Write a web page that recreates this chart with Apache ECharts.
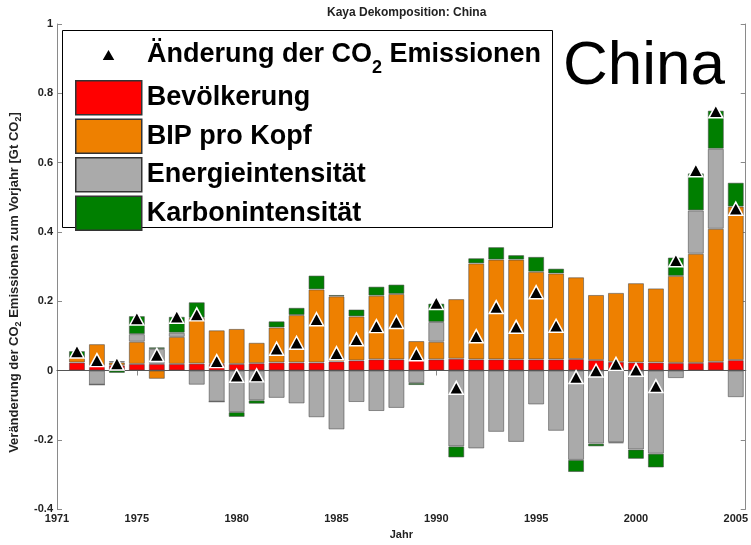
<!DOCTYPE html>
<html><head><meta charset="utf-8">
<script src="https://cdn.jsdelivr.net/npm/echarts@6/dist/echarts.min.js"></script>
<style>html,body{margin:0;padding:0;background:#fff}#c{width:751px;height:545px}</style>
</head><body><div id="c"></div>
<script>
const years = [1972,1973,1974,1975,1976,1977,1978,1979,1980,1981,1982,1983,1984,1985,1986,1987,1988,1989,1990,1991,1992,1993,1994,1995,1996,1997,1998,1999,2000,2001,2002,2003,2004,2005];
const bevoelkerung = [0.023,0.015,0.015,0.019,0.019,0.019,0.020,0.019,0.019,0.021,0.023,0.023,0.023,0.026,0.029,0.032,0.032,0.030,0.032,0.034,0.032,0.032,0.032,0.032,0.032,0.033,0.030,0.025,0.023,0.023,0.022,0.022,0.025,0.030];
const bipProKopf = [0.015,0.061,0.008,0.064,-0.024,0.078,0.132,0.097,0.101,0.059,0.101,0.137,0.211,0.188,0.127,0.184,0.189,0.055,0.051,0.172,0.277,0.288,0.288,0.253,0.248,0.236,0.188,0.199,0.229,0.214,0.251,0.315,0.384,0.443];
const energieintensitaet = [0,-0.041,0.004,0.022,0.043,0.012,-0.041,-0.090,-0.120,-0.086,-0.079,-0.095,-0.135,-0.170,-0.091,-0.117,-0.108,-0.036,0.057,-0.219,-0.225,-0.177,-0.206,-0.098,-0.174,-0.258,-0.211,-0.207,-0.228,-0.240,-0.022,0.125,0.231,-0.077];
const karbonintensitaet = [0.018,0,-0.007,0.052,0.005,0.046,0.045,0,-0.014,-0.010,0.018,0.021,0.040,0.004,0.020,0.026,0.027,-0.006,0.053,-0.032,0.015,0.036,0.013,0.043,0.014,-0.035,-0.008,-0.003,-0.027,-0.040,0.053,0.107,0.110,0.069];
const co2Aenderung = [0.055,0.030,0.020,0.150,0.045,0.155,0.162,0.027,-0.015,-0.014,0.063,0.080,0.148,0.050,0.090,0.128,0.140,0.047,0.195,-0.050,0.099,0.183,0.126,0.226,0.129,-0.019,0.000,0.019,0.002,-0.045,0.318,0.578,0.748,0.467];
const xTickLabels = [1971,1975,1980,1985,1990,1995,2000,2005];
const seriesNames = ['Bevölkerung','BIP pro Kopf','Energieintensität','Karbonintensität'];
const co2Name = 'Änderung der CO2 Emissionen';

const FONT = '"Liberation Sans", Arial, Helvetica, sans-serif';
const chart = echarts.init(document.getElementById('c'), null, {renderer:'canvas'});
// value first, year second: lets the stack run over the value (y) dimension
const toStackPairs = arr => years.map((y,i)=>[arr[i], y]);
const barStyle = c => ({color:c, borderColor:'rgba(70,70,70,0.55)', borderWidth:1});
const axisGrey = '#8a8a8a';
const labelCol = '#222';

const barSeries = [bevoelkerung, bipProKopf, energieintensitaet, karbonintensitaet].map((arr, i) => ({
  name: seriesNames[i],
  type: 'bar',
  stack: 'kaya',
  barWidth: 16,
  encode: {x: 1, y: 0},
  data: toStackPairs(arr),
  itemStyle: barStyle(['#ff0000','#ee8000','#aaaaaa','#007f00'][i]),
  z: 2
}));
barSeries[3].markLine = {
  silent: true, symbol: ['none','none'], label:{show:false},
  lineStyle:{color:'#555', width:1, type:'solid'},
  data:[{yAxis:0}]
};

const option = {
  animation: false,
  textStyle: {fontFamily: FONT},
  title: {text:'Kaya Dekomposition: China', left:327, top:7, padding:0,
    textStyle:{fontSize:12, fontWeight:'bold', color:labelCol, fontFamily:FONT}},
  grid: {left:57, right:4, top:24, bottom:31},
  xAxis: [{
    type:'value', min:1971, max:2005.5, position:'bottom',
    name:'Jahr', nameLocation:'middle', nameGap:19,
    nameTextStyle:{fontSize:11, fontWeight:'bold', color:labelCol, fontFamily:FONT},
    axisLine:{lineStyle:{color:axisGrey}},
    axisTick:{inside:true, length:5, customValues:xTickLabels, lineStyle:{color:axisGrey}},
    axisLabel:{customValues:xTickLabels, formatter: v => String(v),
      fontSize:11, fontWeight:'bold', color:labelCol, margin:4, fontFamily:FONT},
    splitLine:{show:false}
  },{
    type:'value', min:1971, max:2005.5, position:'top',
    axisLine:{lineStyle:{color:axisGrey}},
    axisTick:{inside:true, length:5, customValues:xTickLabels, lineStyle:{color:axisGrey}},
    axisLabel:{show:false}, splitLine:{show:false}
  }],
  yAxis: [{
    type:'value', min:-0.4, max:1, interval:0.2,
    name:'{a|Veränderung der CO}{s|2}{a| Emissionen zum Vorjahr [Gt CO}{s|2}{a|]}',
    nameLocation:'middle', nameGap:31, nameRotate:90,
    nameTextStyle:{padding:[0,32,0,0], rich:{
      a:{fontSize:13, fontWeight:'bold', color:labelCol, fontFamily:FONT},
      s:{fontSize:9, fontWeight:'bold', color:labelCol, fontFamily:FONT, padding:[8,0,0,0]}
    }},
    axisLine:{show:true, lineStyle:{color:axisGrey}},
    axisTick:{show:true, inside:true, length:5, lineStyle:{color:axisGrey}},
    axisLabel:{fontSize:11, fontWeight:'bold', color:labelCol, margin:4, fontFamily:FONT},
    splitLine:{show:false}
  },{
    type:'value', min:-0.4, max:1, interval:0.2, position:'right',
    axisLine:{show:true, lineStyle:{color:axisGrey}},
    axisTick:{show:true, inside:true, length:5, lineStyle:{color:axisGrey}},
    axisLabel:{show:false}, splitLine:{show:false}
  }],
  legend: [{
    data:[{name:co2Name, icon:'triangle'}],
    left:100, top:41, padding:0, itemWidth:15, itemHeight:13,
    selectedMode:false, z:6,
    formatter: () => '{f|Änderung der CO}{s|2}{b| Emissionen}',
    textStyle:{rich:{
      f:{fontSize:27, fontWeight:'bold', color:'#000', fontFamily:FONT, padding:[0,0,0,26]},
      b:{fontSize:27, fontWeight:'bold', color:'#000', fontFamily:FONT},
      s:{fontSize:18, fontWeight:'bold', color:'#000', fontFamily:FONT, padding:[28,0,0,0]}
    }}
  },{
    data: seriesNames.map(n => ({name:n, icon:'rect'})),
    orient:'vertical', left:75, top:80, padding:0,
    itemWidth:66, itemHeight:34, itemGap:3,
    selectedMode:false, z:6,
    itemStyle:{borderColor:'#333', borderWidth:1.5},
    textStyle:{fontSize:27, fontWeight:'bold', color:'#000', fontFamily:FONT}
  }],
  graphic: [
    {type:'rect', z:3, shape:{x:62.5, y:30.5, width:490, height:197},
     style:{fill:'#fff', stroke:'#000', lineWidth:1}},
    {type:'text', z:6, x:563, y:67,
     style:{text:'China', font:'62px "Liberation Sans", Arial, sans-serif', fill:'#000', verticalAlign:'middle'}}
  ],
  series: barSeries.concat([{
    name: co2Name, type:'scatter', symbol:'triangle', symbolSize:[14,13],
    data: years.map((y,i)=>[y, co2Aenderung[i]]),
    itemStyle:{color:'#000', borderColor:'#fff', borderWidth:1.5, opacity:1},
    z:5
  }])
};
chart.setOption(option);
</script></body></html>
